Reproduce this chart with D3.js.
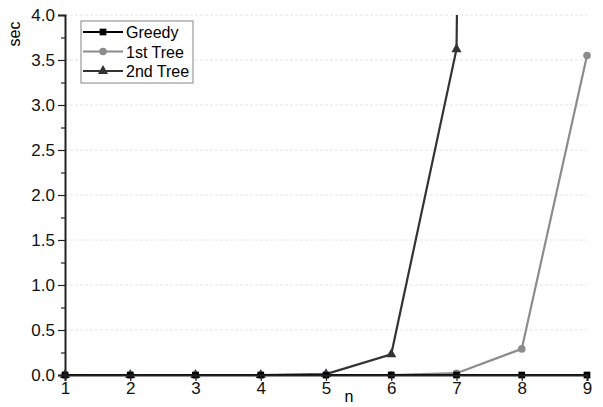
<!DOCTYPE html>
<html>
<head>
<meta charset="utf-8">
<script src="https://cdn.jsdelivr.net/npm/d3@7"></script>
<style>
  body { margin: 0; background: #fff; }
  text { font-family: "Liberation Sans", Arial, sans-serif; }
</style>
</head>
<body>
<div id="chart"></div>
<script>
var nValues = [1, 2, 3, 4, 5, 6, 7, 8, 9];
var greedy = [0, 0, 0, 0, 0, 0, 0, 0, 0];
var tree1 = [0, 0, 0, 0, 0, 0, 0.02, 0.29, 3.55];
var tree2 = [0, 0, 0, 0, 0.01, 0.23, 3.62, 60];
var yTicks = [0, 0.5, 1, 1.5, 2, 2.5, 3, 3.5, 4];

var margin = {top: 15, right: 16, bottom: 32, left: 65},
    width = 603 - margin.left - margin.right,
    height = 407 - margin.top - margin.bottom;

var svg = d3.select("#chart").append("svg")
    .attr("width", 603)
    .attr("height", 407)
    .append("g")
    .attr("transform", "translate(" + margin.left + "," + margin.top + ")");

var x = d3.scaleLinear().domain([1, 9]).range([0, width]);
var y = d3.scaleLinear().domain([0, 4]).range([height, 0]);

// faint grid
svg.append("g")
    .selectAll("line")
    .data(yTicks.slice(1))
    .enter().append("line")
    .attr("x1", 0).attr("x2", width)
    .attr("y1", d => y(d)).attr("y2", d => y(d))
    .style("stroke", "#e6e6e6")
    .style("stroke-dasharray", "3,2")
    .style("stroke-width", 1);

svg.append("clipPath").attr("id", "clip")
    .append("rect").attr("x", -10).attr("y", 0).attr("width", width + 20).attr("height", height + 10);

var series = [
    {name: "Greedy", values: greedy, color: "#000", marker: d3.symbolSquare},
    {name: "1st Tree", values: tree1, color: "#8c8c8c", marker: d3.symbolCircle},
    {name: "2nd Tree", values: tree2, color: "#333", marker: d3.symbolTriangle}
];

var line = d3.line().x((d, i) => x(nValues[i])).y(d => y(d));

var plot = svg.append("g").attr("clip-path", "url(#clip)");

series.slice().reverse().forEach(function(s) {
    plot.append("path")
        .datum(s.values)
        .attr("d", line)
        .style("fill", "none")
        .style("stroke", s.color)
        .style("stroke-width", 2.2);
    plot.selectAll(null)
        .data(s.values.filter(v => v <= 4))
        .enter().append("path")
        .attr("d", d3.symbol().type(s.marker).size(45))
        .attr("transform", (d, i) => "translate(" + x(nValues[i]) + "," + y(d) + ")")
        .style("fill", s.color);
});

// axes
var yAxis = svg.append("g")
    .call(d3.axisLeft(y).tickValues(yTicks).tickFormat(d3.format(".1f")).tickSize(7).tickPadding(3));
yAxis.selectAll("text").style("font-size", "17px").style("fill", "#111");
svg.append("g")
    .call(d3.axisLeft(y).tickValues(d3.range(0.25, 4, 0.5)).tickFormat("").tickSize(4))
    .select(".domain").remove();

var xAxis = svg.append("g")
    .attr("transform", "translate(0," + height + ")")
    .call(d3.axisBottom(x).tickValues(nValues).tickFormat(d3.format("d")).tickSize(6).tickPadding(1));
xAxis.selectAll("text").style("font-size", "17px").style("fill", "#111");

svg.selectAll(".domain").style("stroke", "#222").style("stroke-width", 2);
svg.selectAll(".tick line").style("stroke", "#222").style("stroke-width", 1.2);

// axis labels
svg.append("text")
    .attr("transform", "rotate(-90)")
    .attr("x", -19)
    .attr("y", -45)
    .style("text-anchor", "middle")
    .style("font-size", "16px")
    .text("sec");

svg.append("text")
    .attr("x", x(5.35))
    .attr("y", height + 27)
    .style("text-anchor", "middle")
    .style("font-size", "16px")
    .text("n");

// legend
var legend = svg.append("g").attr("transform", "translate(16,6)");
legend.append("rect")
    .attr("width", 112).attr("height", 62)
    .style("fill", "#fff")
    .style("stroke", "#999")
    .style("stroke-width", 1.2);
series.forEach(function(s, i) {
    var g = legend.append("g").attr("transform", "translate(0," + (11 + i * 19.5) + ")");
    g.append("line").attr("x1", 2).attr("x2", 42)
        .style("stroke", s.color).style("stroke-width", 2.2);
    g.append("path")
        .attr("d", d3.symbol().type(s.marker).size(45))
        .attr("transform", "translate(22,0)")
        .style("fill", s.color);
    g.append("text").attr("x", 45).attr("y", 6)
        .style("font-size", "16px")
        .text(s.name);
});
</script>
</body>
</html>
